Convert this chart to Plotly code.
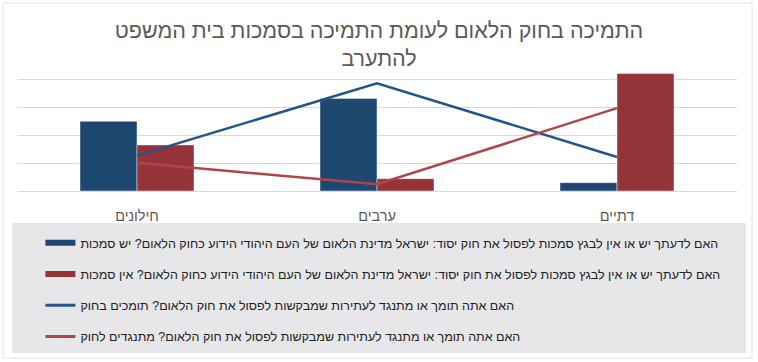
import plotly.graph_objects as go

categories = ["חילונים", "ערבים", "דתיים"]
bar_yes = [25, 33.2, 3.0]
bar_no = [16.5, 4.4, 42.1]
line_support = [12.7, 38.6, 12.2]
line_oppose = [10.1, 2.4, 29.7]

names = [
    "האם לדעתך יש או אין לבגץ סמכות לפסול את חוק יסוד: ישראל מדינת הלאום של העם היהודי הידוע כחוק הלאום? יש סמכות",
    "האם לדעתך יש או אין לבגץ סמכות לפסול את חוק יסוד: ישראל מדינת הלאום של העם היהודי הידוע כחוק הלאום? אין סמכות",
    "האם אתה תומך או מתנגד לעתירות שמבקשות לפסול את חוק הלאום? תומכים בחוק",
    "האם אתה תומך או מתנגד לעתירות שמבקשות לפסול את חוק הלאום? מתנגדים לחוק",
]
title_text = "התמיכה בחוק הלאום לעומת התמיכה בסמכות בית המשפט<br>להתערב"

BLUE = "#1e4870"
RED = "#943338"
LBLUE = "#23558a"
LRED = "#b0444b"
FONT = "Liberation Sans, Arial, sans-serif"

fig = go.Figure()
fig.add_trace(go.Bar(x=categories, y=bar_yes, marker_color=BLUE, showlegend=False, name=names[0]))
fig.add_trace(go.Bar(x=categories, y=bar_no, marker_color=RED, showlegend=False, name=names[1]))
fig.add_trace(go.Scatter(x=categories, y=line_support, mode="lines", line=dict(color=LBLUE, width=2.5), showlegend=False, name=names[2]))
fig.add_trace(go.Scatter(x=categories, y=line_oppose, mode="lines", line=dict(color=LRED, width=2.5), showlegend=False, name=names[3]))

# legend entries
leg_styles = [(BLUE, 6), (RED, 6), (LBLUE, 3), (LRED, 3)]
for i, (c, w) in enumerate(leg_styles):
    fig.add_trace(go.Scatter(x=[None], y=[None], mode="lines", line=dict(color=c, width=w),
                             name=names[i], legendgroup=f"g{i}", showlegend=True))

fig.update_layout(
    width=758, height=362,
    margin=dict(l=17, r=21, t=51, b=171, autoexpand=False),
    paper_bgcolor="white", plot_bgcolor="white",
    barmode="group", bargap=0.525, bargroupgap=0,
    font=dict(family=FONT, color="#595959"),
    title=dict(text=title_text, x=0.5, xanchor="center", y=0.896, yanchor="top", yref="container",
               font=dict(size=21.5, color="#595959", family=FONT)),
    xaxis=dict(showgrid=False, showline=False, ticks="", tickfont=dict(size=14.5, color="#595959"),
               ticklabelstandoff=14, automargin=False),
    yaxis=dict(range=[0, 50.2], dtick=10, showticklabels=False, gridcolor="#d9d9d9", gridwidth=1,
               zeroline=True, zerolinecolor="#d9d9d9", zerolinewidth=1, showline=False, automargin=False),
    legend=dict(x=0.0325, xanchor="left", y=-0.266, yanchor="top", orientation="v",
                bgcolor="rgba(0,0,0,0)", font=dict(size=12.5, color="#222222", family=FONT),
                tracegroupgap=12, traceorder="grouped", itemwidth=30),
    shapes=[
        dict(type="rect", xref="paper", yref="paper", x0=(12-17)/720, x1=(746-17)/720,
             y0=(191-353)/140, y1=(191-223)/140, fillcolor="#e7e7ea", line=dict(width=0), layer="below"),
        dict(type="rect", xref="paper", yref="paper", x0=(3-17)/720, x1=(752-17)/720,
             y0=(191-358)/140, y1=(191-3)/140, fillcolor="rgba(0,0,0,0)", line=dict(width=1, color="#e2e2e2"), layer="below"),
    ],
)

fig.write_html("out.html", config={"displayModeBar": False},
               post_script="document.body.style.margin='0px';document.body.style.overflow='hidden';")
